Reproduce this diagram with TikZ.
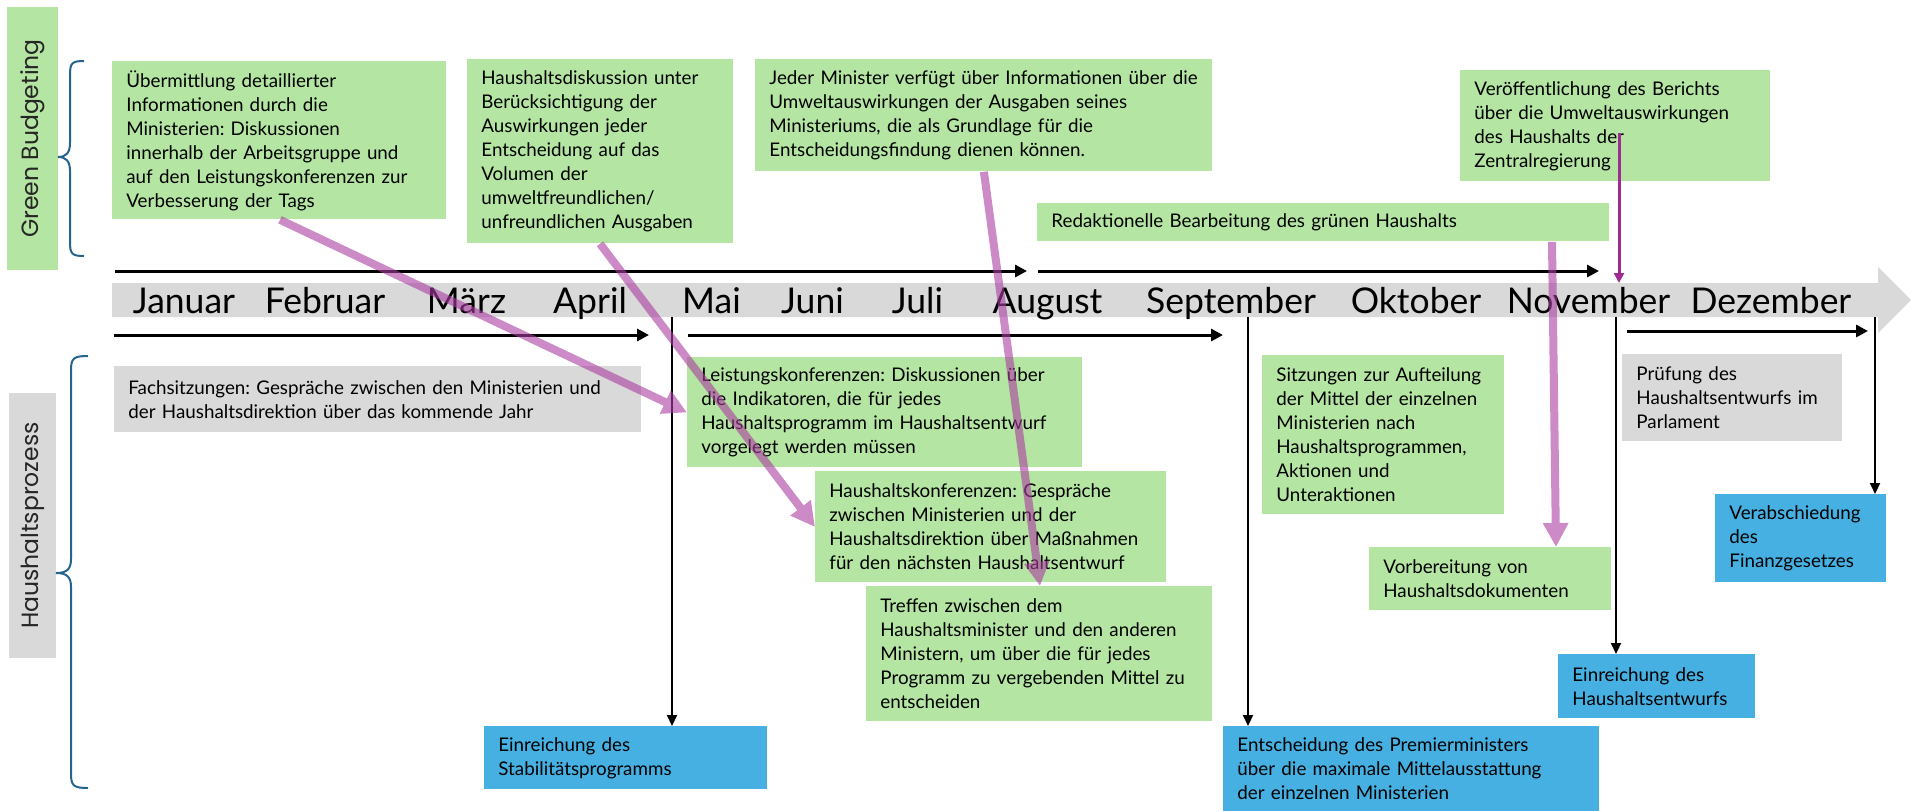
\documentclass[tikz,border=0pt]{standalone}
\usepackage{fontspec}
\setmainfont{Lato}
\newfontfamily\lblfont{Poppins}
\usetikzlibrary{arrows.meta,calc}
\definecolor{grn}{RGB}{180,229,162}
\definecolor{gry}{RGB}{217,217,217}
\definecolor{blu}{RGB}{69,176,225}
\definecolor{mag}{RGB}{170,60,160}
\definecolor{magd}{RGB}{160,43,147}
\definecolor{brc}{RGB}{38,100,140}
\definecolor{lbltext}{RGB}{38,38,38}
\frenchspacing
\hyphenpenalty=10000
\exhyphenpenalty=10000
\begin{document}
\begin{tikzpicture}[x=0.5pt,y=-0.5pt,
  box/.style={anchor=north west, inner xsep=7pt, inner ysep=0pt, align=left, font=\fontsize{9.4pt}{12pt}\selectfont, text=black},
  gbox/.style={box, fill=grn},
  graybox/.style={box, fill=gry},
  bbox/.style={box, fill=blu},
  month/.style={anchor=base, font=\fontsize{17.75pt}{20pt}\selectfont, inner sep=0pt},
  lbl/.style={font=\lblfont\fontsize{11.75pt}{14pt}\selectfont, text=lbltext, rotate=90, inner sep=0pt},
  brace/.style={draw=brc, line width=1pt},
  span/.style={line width=1.5pt, -{Triangle[length=6pt,width=6pt]}},
  drop/.style={line width=1pt, -{Triangle[length=5.5pt,width=5pt]}},
  link/.style={draw=mag, line width=4pt, -{Triangle[length=12pt,width=12pt]}},
  thinlink/.style={draw=magd, line width=1.5pt, -{Triangle[length=5pt,width=5pt]}}]
\useasboundingbox (0,0) rectangle (1917,811);

% side labels and braces
\node[lbl, fill=grn, minimum width=131.5pt, minimum height=25.5pt] (gb) at (32.5,138.5) {Green Budgeting};
\node[lbl, fill=gry, minimum width=132.5pt, minimum height=23.5pt] (hp) at (32.5,525.5) {Haushaltsprozess};
\draw[brace] (84,61) .. controls (72,61) and (70,63) .. (70,75) -- (70,143)
  .. controls (70,153) and (66,157) .. (58,157)
  .. controls (66,157) and (70,161) .. (70,171) -- (70,242)
  .. controls (70,254) and (72,256) .. (84,256);
\draw[brace] (88,356) .. controls (74,356) and (71,358) .. (71,370) -- (71,559)
  .. controls (71,569) and (67,573) .. (56,573)
  .. controls (67,573) and (71,577) .. (71,587) -- (71,774)
  .. controls (71,786) and (74,788) .. (88,788);

% timeline bar
\fill[gry] (112,283) -- (1878,283) -- (1878,267) -- (1911,300) -- (1878,333) -- (1878,317) -- (112,317) -- cycle;
\node[month] (jan) at (184,313) {Januar};
\node[month] (feb) at (325,313) {Februar};
\node[month] (mar) at (466.5,313) {März};
\node[month] (apr) at (590,313) {April};
\node[month] (mai) at (711.5,313) {Mai};
\node[month] (jun) at (812.5,313) {Juni};
\node[month] (jul) at (917.5,313) {Juli};
\node[month] (aug) at (1047.5,313) {August};
\node[month] (sep) at (1231,313) {September};
\node[month] (okt) at (1416,313) {Oktober};
\node[month] (nov) at (1588.5,313) {November};
\node[month] (dez) at (1771,313) {Dezember};

% Green budgeting boxes
\node[gbox, text width=153pt, minimum height=79pt] (b1) at (112,61) {Übermittlung detaillierter\\Informationen durch die\\Ministerien: Diskussionen\\innerhalb der Arbeitsgruppe und\\auf den Leistungskonferenzen zur\\Verbesserung der Tags};
\node[gbox, text width=119pt, minimum height=92pt] (b2) at (467,59) {Haushaltsdiskussion unter\\Berücksichtigung der\\Auswirkungen jeder\\Entscheidung auf das\\Volumen der\\umweltfreundlichen/\\unfreundlichen Ausgaben};
\node[gbox, text width=214.5pt, minimum height=56pt] (b3) at (755,59) {Jeder Minister verfügt über Informationen über die\\Umweltauswirkungen der Ausgaben seines\\Ministeriums, die als Grundlage für die\\Entscheidungsfindung dienen können.};
\node[gbox, text width=272pt, minimum height=19pt] (b4) at (1037,203) {Redaktionelle Bearbeitung des grünen Haushalts};
\node[gbox, text width=141pt, minimum height=55.5pt] (b5) at (1460,70) {Veröffentlichung des Berichts\\über die Umweltauswirkungen\\des Haushalts der\\Zentralregierung};

% budget process boxes
\node[graybox, text width=249.5pt, minimum height=33pt] (b6) at (114,366) {Fachsitzungen: Gespräche zwischen den Ministerien und\\der Haushaltsdirektion über das kommende Jahr};
\node[gbox, text width=183.5pt, minimum height=55pt] (b7) at (687,357) {Leistungskonferenzen: Diskussionen über\\die Indikatoren, die für jedes\\Haushaltsprogramm im Haushaltsentwurf\\vorgelegt werden müssen};
\node[gbox, text width=161.5pt, minimum height=55.5pt] (b8) at (815,471) {Haushaltskonferenzen: Gespräche\\zwischen Ministerien und der\\Haushaltsdirektion über Maßnahmen\\für den nächsten Haushaltsentwurf};
\node[gbox, text width=159pt, minimum height=67.5pt] (b9) at (866,586) {Treffen zwischen dem\\Haushaltsminister und den anderen\\Ministern, um über die für jedes\\Programm zu vergebenden Mittel zu\\entscheiden};
\node[bbox, text width=127.5pt, minimum height=31.5pt] (b10) at (484,726) {Einreichung des\\Stabilitätsprogramms};
\node[gbox, text width=107pt, minimum height=79.5pt] (b11) at (1262,355) {Sitzungen zur Aufteilung\\der Mittel der einzelnen\\Ministerien nach\\Haushaltsprogrammen,\\Aktionen und\\Unteraktionen};
\node[bbox, text width=174pt, minimum height=42.5pt] (b12) at (1223,726) {Entscheidung des Premierministers\\über die maximale Mittelausstattung\\der einzelnen Ministerien};
\node[gbox, text width=107pt, minimum height=31.5pt] (b13) at (1369,547) {Vorbereitung von\\Haushaltsdokumenten};
\node[bbox, text width=84.5pt, minimum height=32pt] (b14) at (1558,654) {Einreichung des\\Haushaltsentwurfs};
\node[graybox, text width=96pt, minimum height=43.5pt] (b15) at (1622,354) {Prüfung des\\Haushaltsentwurfs im\\Parlament};
\node[bbox, text width=71.5pt, minimum height=44pt] (b16) at (1715,494) {Verabschiedung\\des\\Finanzgesetzes};

% period arrows
\coordinate (a1s) at (115,271); \coordinate (a1e) at (1027,271);
\coordinate (a2s) at (1038,271); \coordinate (a2e) at (1599,271);
\coordinate (c1s) at (114,335); \coordinate (c1e) at (649,335);
\coordinate (c2s) at (688,335); \coordinate (c2e) at (1223,335);
\coordinate (c3s) at (1627,331); \coordinate (c3e) at (1868,331);
\draw[span] (a1s) -- (a1e);
\draw[span] (a2s) -- (a2e);
\draw[span] (c1s) -- (c1e);
\draw[span] (c2s) -- (c2e);
\draw[span] (c3s) -- (c3e);

% drops from the timeline
\coordinate (v1) at (672,317);
\coordinate (v2) at (1248,317);
\coordinate (v3) at (1616,317);
\coordinate (v4) at (1875,317);
\draw[drop] (v1) -- (v1 |- b10.north);
\draw[drop] (v2) -- (v2 |- b12.north);
\draw[drop] (v3) -- (v3 |- b14.north);
\draw[drop] (v4) -- (v4 |- b16.north);

% green budgeting links
\begin{scope}[transparency group, opacity=0.6]
\draw[link] ([xshift=84pt]b1.south west) -- (b7.west);
\draw[link] ([xshift=66.5pt]b2.south west) -- (b8.west);
\draw[link] (b3.south) -- ([xshift=87pt]b9.north west);
\draw[link] ([xshift=257.5pt]b4.south west) -- ([xshift=93.5pt]b13.north west);
\end{scope}
\coordinate (m5s) at (1619,133);
\coordinate (m5e) at (1619,283);
\draw[thinlink] (m5s) -- (m5e);
\end{tikzpicture}
\end{document}
